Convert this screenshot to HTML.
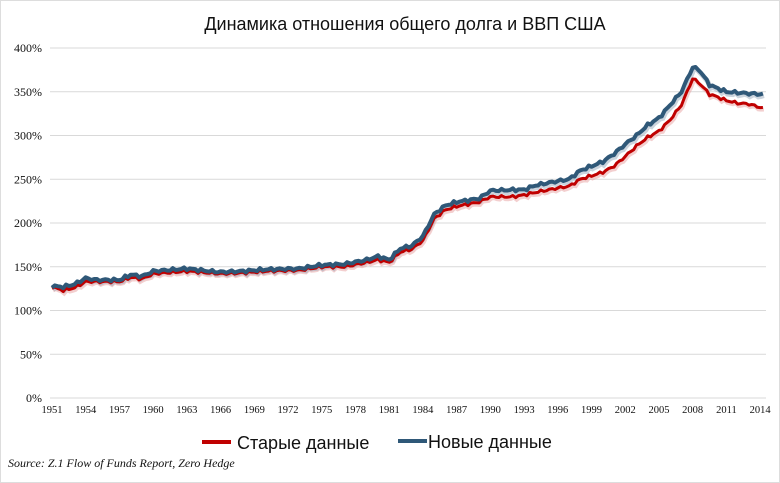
<!DOCTYPE html><html><head><meta charset="utf-8"><style>body{margin:0;background:#fff}svg{display:block}</style></head><body>
<svg id="s" width="780" height="483" xmlns="http://www.w3.org/2000/svg">
<rect x="0.5" y="0.5" width="779" height="482" fill="#fff" stroke="#ddd"/>
<text x="405" y="30" text-anchor="middle" font-family="Liberation Sans, sans-serif" font-size="18" fill="#111">Динамика отношения общего долга и ВВП США</text>
<g id="grid" stroke="#d9d9d9" stroke-width="1"></g>
<g id="yl" font-family="Liberation Serif, serif" font-size="12" fill="#111" text-anchor="end"></g>
<g id="xl" font-family="Liberation Serif, serif" font-size="10.5" fill="#111" text-anchor="middle"></g>
<polyline id="rs" fill="none" stroke="#e8a0a0" stroke-width="4" opacity="0.5" transform="translate(1,2)"/>
<polyline id="bs" fill="none" stroke="#9ab" stroke-width="5" opacity="0.5" transform="translate(1,2)"/>
<polyline id="r" fill="none" stroke="#c00000" stroke-width="3" stroke-linejoin="round"/>
<polyline id="b" fill="none" stroke="#2f5878" stroke-width="4" stroke-linejoin="round"/>
<line x1="202" y1="442" x2="231" y2="442" stroke="#c00000" stroke-width="4"/>
<text x="237" y="449" font-family="Liberation Sans, sans-serif" font-size="18" fill="#111">Старые данные</text>
<line x1="398" y1="441" x2="427" y2="441" stroke="#2f5878" stroke-width="4"/>
<text x="428" y="448" font-family="Liberation Sans, sans-serif" font-size="18" fill="#111">Новые данные</text>
<text x="8" y="467" font-family="Liberation Serif, serif" font-size="12" font-style="italic" fill="#111">Source: Z.1 Flow of Funds Report, Zero Hedge</text>
</svg>
<script>
var ns="http://www.w3.org/2000/svg";
function Y(v){return 398-v*0.875}
function X(y){return 52+(y-1951)*11.24}
var g=document.getElementById('grid'),yl=document.getElementById('yl'),xl=document.getElementById('xl');
for(var i=0;i<=8;i++){var v=i*50;var l=document.createElementNS(ns,'line');l.setAttribute('x1',50);l.setAttribute('x2',766);l.setAttribute('y1',Y(v));l.setAttribute('y2',Y(v));g.appendChild(l);
var t=document.createElementNS(ns,'text');t.setAttribute('x',42);t.setAttribute('y',Y(v)+4);t.textContent=v+'%';yl.appendChild(t);}
for(var y=1951;y<=2014;y+=3){var t=document.createElementNS(ns,'text');t.setAttribute('x',X(y));t.setAttribute('y',413);t.textContent=y;xl.appendChild(t);}
var d=[[1951,128,127],[1952,127,123],[1953,130,126],[1954,137,133],[1955,135,133],[1957,135,133],[1958,141,138],[1959,139,136],[1960,145,142],[1962,147,144],[1963,148,145],[1965,145,143],[1966,144,142],[1968,145,143],[1970,147,145],[1973,148,146],[1975,152,150],[1977,153,150],[1979,158,155],[1980,162,158],[1981,158,155],[1982,171,167],[1983,174,170],[1984,185,180],[1985,210,205],[1986,220,215],[1987,224,219],[1989,228,224],[1990,237,230],[1992,238,230],[1993,238,232],[1994,243,235],[1996,248,240],[1997,250,242],[1998,260,250],[2000,270,258],[2001,279,265],[2002,290,276],[2003,300,288],[2004,312,298],[2005,320,305],[2006,335,318],[2007,350,335],[2008,378,365],[2008.6,375,360],[2009.5,358,347],[2010,355,345],[2011,350,340],[2012,349,337],[2013,348,336],[2014.3,347,331]];
var pr=[],pb=[],k=0;
for(var t=1951;t<=2014.3;t+=0.25){while(k<d.length-2&&d[k+1][0]<t)k++;var a=d[k],b=d[k+1];var f=Math.max(0,Math.min(1,(t-a[0])/(b[0]-a[0])));
var n=Math.sin(t*7.3)*1.2+Math.sin(t*13.1)*0.8;
var nb=a[1]+(b[1]-a[1])*f+n,nr=a[2]+(b[2]-a[2])*f+n*0.9;
pb.push(X(t).toFixed(1)+','+Y(nb).toFixed(1));pr.push(X(t).toFixed(1)+','+Y(nr).toFixed(1));}
['b','bs'].forEach(function(i){document.getElementById(i).setAttribute('points',pb.join(' '))});
['r','rs'].forEach(function(i){document.getElementById(i).setAttribute('points',pr.join(' '))});
</script>
</body></html>
